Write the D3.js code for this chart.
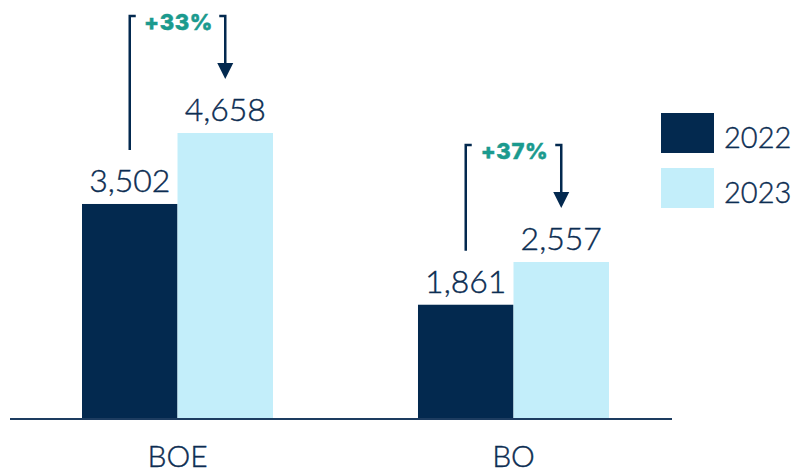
<!DOCTYPE html>
<html>
<head>
<meta charset="utf-8">
<script src="https://cdn.jsdelivr.net/npm/d3@7/dist/d3.min.js"></script>
<style>
  html, body { margin: 0; padding: 0; background: #fff; }
  svg { display: block; font-family: Lato, "Open Sans", sans-serif; }
</style>
</head>
<body>
<svg id="chart" width="795" height="474"></svg>
<script>
// Chart data
const categories = ["BOE", "BO"];
const years = ["2022", "2023"];
const values2022 = [3502, 1861];
const values2023 = [4658, 2557];

const colors = { "2022": "#03294f", "2023": "#c3eefa" };
const textColor = "#0c2d52";
const accent = "#1b9a8e";

const svg = d3.select("#chart");
const baseline = 419;

const x = d3.scaleBand().domain(categories).range([82, 609]).paddingInner(0.4315).paddingOuter(0);
const xi = d3.scaleBand().domain(years).range([0, x.bandwidth()]);
const y = d3.scaleLinear().domain([0, 5000]).range([baseline, baseline - 0.0614 * 5000]);

const rows = categories.map((c, i) => ({
  cat: c,
  vals: [{ year: "2022", v: values2022[i] }, { year: "2023", v: values2023[i] }]
}));

const fmt = d3.format(",");

// Bars
const g = svg.selectAll("g.group").data(rows).join("g")
  .attr("class", "group")
  .attr("transform", d => `translate(${x(d.cat)},0)`);

g.selectAll("rect").data(d => d.vals).join("rect")
  .attr("x", d => xi(d.year))
  .attr("y", d => y(d.v))
  .attr("width", xi.bandwidth())
  .attr("height", d => baseline - y(d.v))
  .attr("fill", d => colors[d.year]);

// Value labels
g.selectAll("text.val").data(d => d.vals).join("text")
  .attr("class", "val")
  .attr("x", d => xi(d.year) + xi.bandwidth() / 2)
  .attr("y", d => y(d.v) - 12)
  .attr("text-anchor", "middle")
  .attr("font-size", 32)
  .attr("font-weight", 300)
  .attr("stroke", textColor)
  .attr("stroke-width", 0.4)
  .attr("fill", textColor)
  .text(d => fmt(d.v));

// Growth brackets with arrow
const arrowGap = 54, topGap = 117;
g.each(function (d) {
  const sel = d3.select(this);
  const a = d.vals[0], b = d.vals[1];
  const xa = xi(a.year) + xi.bandwidth() / 2;
  const xb = xi(b.year) + xi.bandwidth() / 2;
  const top = y(Math.max(a.v, b.v)) - topGap;
  const ya = y(a.v) - arrowGap;
  const yb = y(b.v) - arrowGap;
  const headH = 16, headW = 8;
  sel.append("path")
    .attr("d", `M${xa + 6},${top} H${xa} V${ya}`)
    .attr("fill", "none").attr("stroke", colors["2022"]).attr("stroke-width", 2.5);
  sel.append("path")
    .attr("d", `M${xb - 6},${top} H${xb} V${yb - headH + 1}`)
    .attr("fill", "none").attr("stroke", colors["2022"]).attr("stroke-width", 2.5);
  sel.append("path")
    .attr("d", `M${xb - headW},${yb - headH} L${xb + headW},${yb - headH} L${xb},${yb} Z`)
    .attr("fill", colors["2022"]);
  const pct = Math.round((b.v / a.v - 1) * 100);
  sel.append("text")
    .attr("x", (xa + xb) / 2 + 1)
    .attr("y", top + 14)
    .attr("text-anchor", "middle")
    .attr("font-family", "Inter, Lato, sans-serif")
    .attr("font-size", 22)
    .attr("font-weight", 800)
    .attr("letter-spacing", 0.6)
    .attr("stroke", accent)
    .attr("stroke-width", 0.5)
    .attr("fill", accent)
    .text(`+${pct}%`);
});

// Baseline axis
svg.append("line")
  .attr("x1", 10).attr("x2", 672)
  .attr("y1", baseline).attr("y2", baseline)
  .attr("stroke", "#1d3c60").attr("stroke-width", 2);

const xAxis = d3.axisBottom(x).tickSize(0).tickPadding(0);
const axG = svg.append("g").attr("transform", `translate(0,${baseline})`).call(xAxis);
axG.select(".domain").remove();
axG.selectAll("text")
  .attr("dy", null)
  .attr("y", 48)
  .attr("font-size", 30)
  .attr("font-weight", 300)
  .attr("stroke", textColor)
  .attr("stroke-width", 0.4)
  .attr("font-family", "Lato, sans-serif")
  .attr("fill", textColor);

// Legend
const legend = svg.append("g").attr("transform", "translate(661,113)");
const li = legend.selectAll("g").data(years).join("g")
  .attr("transform", (d, i) => `translate(0,${i * 55})`);
li.append("rect").attr("width", 53).attr("height", 40).attr("fill", d => colors[d]);
li.append("text")
  .attr("x", 63).attr("y", 35)
  .attr("font-size", 29)
  .attr("font-weight", 300)
  .attr("stroke", textColor)
  .attr("stroke-width", 0.4)
  .attr("fill", textColor)
  .text(d => d);
</script>
</body>
</html>
